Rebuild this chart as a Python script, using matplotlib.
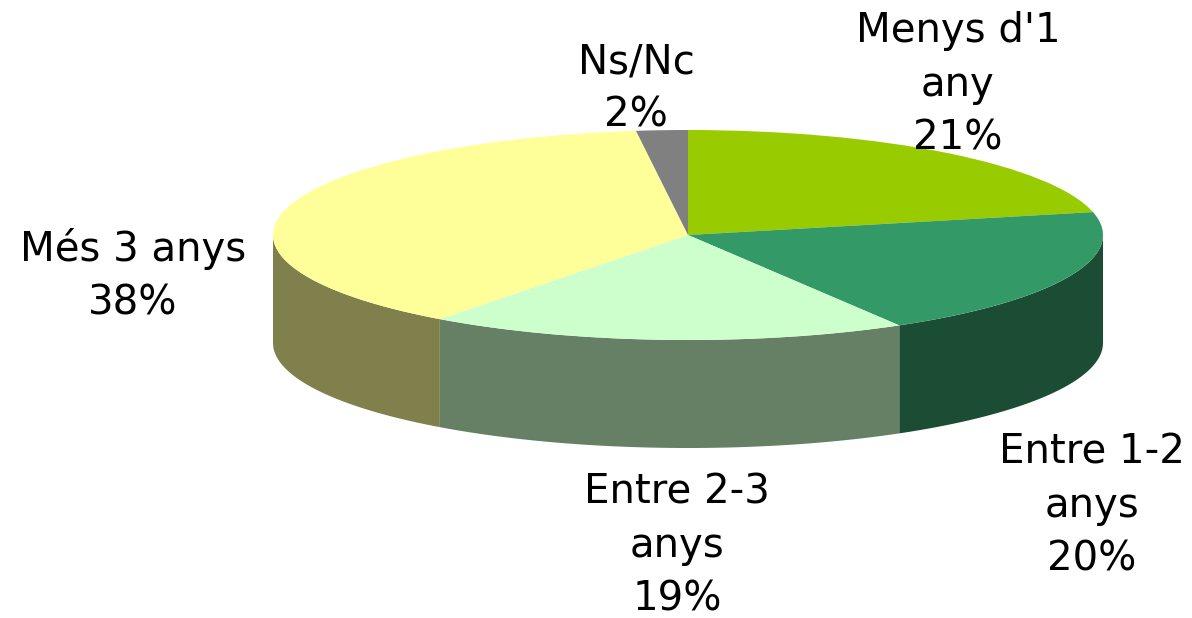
import numpy as np
import matplotlib
matplotlib.use('Agg')
import matplotlib.pyplot as plt

labels = ["Menys d'1\nany\n21%", "Entre 1-2\nanys\n20%", "Entre 2-3\nanys\n19%", "Més 3 anys\n38%", "Ns/Nc\n2%"]
# unrounded shares estimated from the slice edges, the labels show them rounded
shares = [21.5, 20, 18.7, 37.8, 2]
top_colors = ['#99CC00', '#339966', '#CCFFCC', '#FFFF99', '#808080']
side_colors = ['#4D6600', '#1A4D33', '#668066', '#80804D', '#404040']

# label positions in pixels (x from left, y from top)
label_pos = [(958, 85), (1092, 506), (677, 546), (133, 276), (636, 89)]

W, H = 1192, 618
cx, cy = 688, 235
rx, ry, depth = 415, 105, 108

fig = plt.figure(figsize=(W / 100, H / 100), dpi=100)
ax = fig.add_axes([0, 0, 1, 1])

# pie drawn as a unit circle, the axis limits squash it to an ellipse
wedges, _ = ax.pie(shares, colors=top_colors, startangle=90, counterclock=False, radius=1,
                   wedgeprops={'zorder': 3, 'linewidth': 0})
ax.set_aspect('auto')
ax.set_xlim(-cx / rx, (W - cx) / rx)
ax.set_ylim(-(H - cy) / ry, cy / ry)
d = depth / ry

# side wall, only the front half of the rim
edges = np.cumsum([0] + shares) / sum(shares) * 2 * np.pi
for i in range(len(shares)):
    a0 = max(edges[i], np.pi / 2)
    a1 = min(edges[i + 1], 3 * np.pi / 2)
    if a1 <= a0:
        continue
    t = np.linspace(a0, a1, 120)
    x = np.sin(t)
    y = np.cos(t)
    ax.fill(np.r_[x, x[::-1]], np.r_[y, y[::-1] - d], color=side_colors[i], lw=0, zorder=2)

for lab, (px, py) in zip(labels, label_pos):
    ax.text((px - cx) / rx, (cy - py) / ry, lab, ha='center', va='center', fontsize=29,
            family='DejaVu Sans', linespacing=1.45, color='black', zorder=5)

fig.savefig('out.png', dpi=100)
